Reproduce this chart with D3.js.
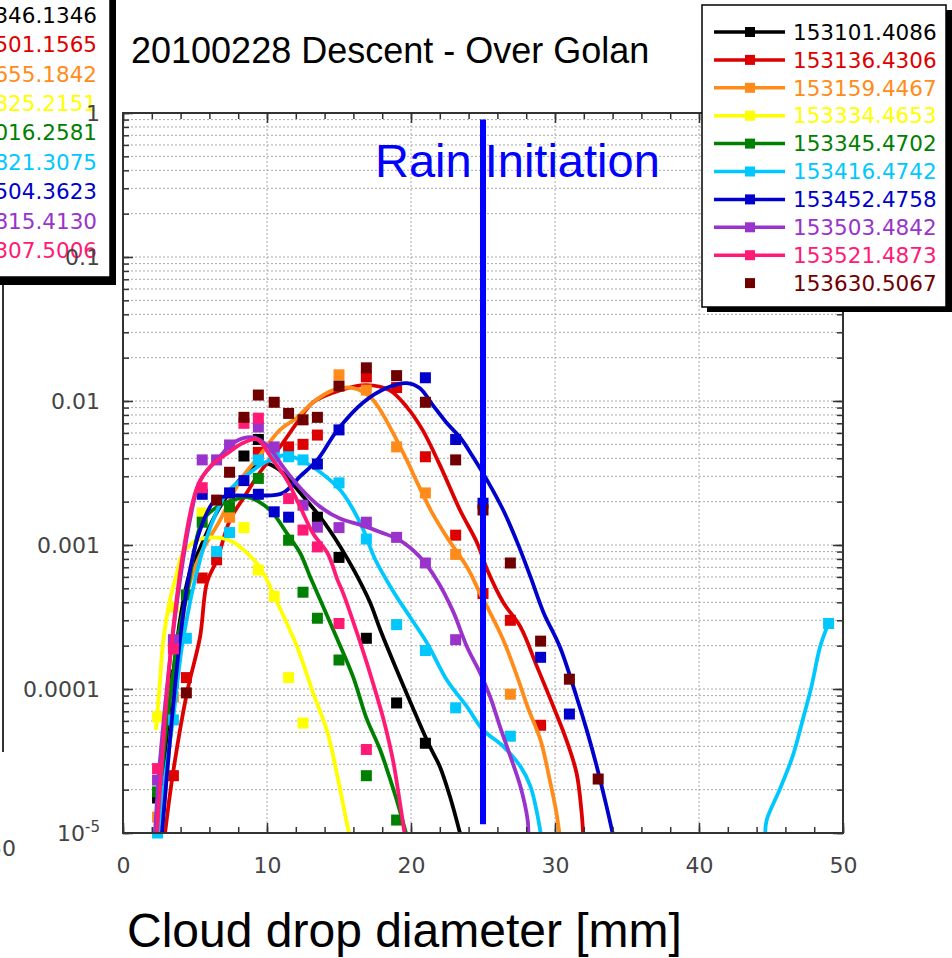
<!DOCTYPE html>
<html>
<head>
<meta charset="utf-8">
<script src="https://d3js.org/d3.v7.min.js"></script>
<style>
body { margin: 0; background: #fff; }
svg { display: block; }
.axis .tick text {
  font-family: "DejaVu Sans", sans-serif;
  font-size: 22px;
  fill: #444;
}
.axis line { stroke: #333; stroke-width: 1.5; }
.axis path.domain { display: none; }
.grid line { stroke: #aaa; stroke-width: 1; stroke-dasharray: 2,2; }
.legend text { font-family: "DejaVu Sans", sans-serif; font-size: 21.5px; }
.label { font-family: "Liberation Sans", Arial, sans-serif; }
</style>
</head>
<body>
<script>

// series names and colours (right legend)
var seriesNames = ["153101.4086", "153136.4306", "153159.4467", "153334.4653", "153345.4702",
                   "153416.4742", "153452.4758", "153503.4842", "153521.4873", "153630.5067"];
var seriesColors = ["#000000", "#dd0000", "#ff8c1a", "#ffff00", "#008000",
                    "#00c8ff", "#0000cc", "#9933cc", "#ff1a75", "#700000"];

// left legend, only the visible part of it
var leftLegendText = ["346.1346", "501.1565", "655.1842", "825.2151", "016.2581",
                      "821.3075", "504.3623", "815.4130", "307.5006"];

// ticks
var xMajor = [0, 10, 20, 30, 40, 50];
var xGrid = [10, 20, 30, 40];
var yMajor = [1e-5, 1e-4, 1e-3, 1e-2, 1e-1, 1];
var yMajorLabels = ["10^-5", "0.0001", "0.001", "0.01", "0.1", "1"];

// rain initiation marker
var rainX = 25;
var rainY = [1.15e-5, 0.9];

// [diameter, concentration] -- smoothed curves and measured points
var blackCurve = [[2.57,1e-5],[2.99,3.2e-5],[3.40,9.8e-5],[3.96,3.0e-4],[4.65,6.5e-4],[5.35,9.5e-4],[6.39,1.6e-3],[7.64,2.5e-3],[8.82,3.3e-3],[9.86,3.7e-3],[10.9,3.3e-3],[11.6,2.8e-3],[12.3,2.3e-3],[13.7,1.56e-3],[15.1,9.7e-4],[16.1,6.5e-4],[17.15,4.0e-4],[17.85,2.6e-4],[19.0,1.36e-4],[20.1,7.5e-5],[21.3,4.0e-5],[22.0,2.9e-5],[22.7,1.8e-5],[23.4,1e-5]];
var blackPts = [[2.4,1.75e-5],[3.5,1.25e-4],[8.4,4.15e-3],[9.4,5.4e-3],[13.5,1.56e-3],[15.0,8.2e-4],[16.9,2.25e-4],[19.0,8.0e-5],[21.0,4.2e-5]];

var redCurve = [[2.92,1e-5],[3.47,2.6e-5],[4.44,9.4e-5],[5.35,2.3e-4],[5.83,5.5e-4],[6.53,7.9e-4],[7.43,1.49e-3],[8.47,2.2e-3],[9.51,3.2e-3],[10.9,4.8e-3],[12.1,7.1e-3],[13.2,9.8e-3],[15.1,1.19e-2],[16.9,1.29e-2],[18.5,1.19e-2],[19.7,9.1e-3],[20.8,6.3e-3],[22.0,3.6e-3],[23.4,1.75e-3],[24.6,1.03e-3],[25.3,6.7e-4],[26.4,4.0e-4],[27.6,2.7e-4],[28.75,1.43e-4],[29.9,7.5e-5],[30.8,4.4e-5],[31.5,2.6e-5],[31.85,1.38e-5],[31.95,1e-5]];
var redPts = [[3.5,2.5e-5],[4.4,1.2e-4],[5.5,5.9e-4],[6.5,7.9e-4],[9.4,4.4e-3],[11.5,4.8e-3],[12.5,5.0e-3],[13.5,5.8e-3],[16.9,1.47e-2],[19.0,1.24e-2],[21.0,4.1e-3],[23.1,1.17e-3],[25.0,4.6e-4],[26.9,3.0e-4],[29.0,5.6e-5]];

var orangeCurve = [[2.71,1e-5],[3.26,4.4e-5],[3.82,1.6e-4],[4.51,4.9e-4],[5.35,8.5e-4],[6.74,1.49e-3],[8.13,2.8e-3],[9.51,4.2e-3],[10.9,6.3e-3],[12.1,7.7e-3],[13.2,9.8e-3],[14.6,1.19e-2],[16.0,1.23e-2],[17.15,1.07e-2],[17.85,8.7e-3],[18.75,6.0e-3],[19.7,3.9e-3],[20.6,2.5e-3],[21.5,1.65e-3],[22.5,1.13e-3],[23.9,7.0e-4],[24.8,4.6e-4],[25.3,3.7e-4],[26.4,2.2e-4],[27.4,1.2e-4],[28.1,7.5e-5],[29.0,4.4e-5],[29.65,2.3e-5],[30.1,1.38e-5],[30.3,1e-5]];
var orangePts = [[2.4,1.29e-5],[3.5,8.8e-5],[7.4,1.56e-3],[15.0,1.52e-2],[16.9,1.19e-2],[19.0,4.8e-3],[21.0,2.3e-3],[23.1,8.6e-4],[26.9,9.2e-5]];

var yellowCurve = [[2.29,5.2e-5],[2.57,1.15e-4],[2.78,2.1e-4],[3.26,4.15e-4],[3.75,6.4e-4],[4.17,8.8e-4],[5.35,1.1e-3],[6.74,1.12e-3],[7.64,1.05e-3],[8.61,8.8e-4],[9.51,7.0e-4],[10.7,4.0e-4],[12.1,1.95e-4],[13.2,9.4e-5],[14.2,5.0e-5],[14.9,2.45e-5],[15.6,1.1e-5],[15.7,1e-5]];
var yellowPts = [[2.4,6.4e-5],[3.5,3.7e-4],[5.5,1.67e-3],[8.4,1.32e-3],[9.4,6.7e-4],[10.5,4.4e-4],[11.5,1.2e-4],[12.5,5.8e-5]];

var greenCurve = [[2.36,1e-5],[2.57,1.9e-5],[2.99,5.2e-5],[3.40,1.1e-4],[3.75,2.1e-4],[4.44,4.6e-4],[5.56,1.49e-3],[6.74,1.89e-3],[7.64,2.05e-3],[8.61,2.15e-3],[9.51,1.98e-3],[10.4,1.67e-3],[11.4,1.2e-3],[12.3,8.8e-4],[13.0,6.0e-4],[13.7,4.15e-4],[14.9,2.2e-4],[16.0,1.2e-4],[16.9,6.3e-5],[17.85,3.8e-5],[18.5,2.45e-5],[19.0,1.7e-5],[19.65,1e-5]];
var greenPts = [[2.4,1.93e-5],[3.5,1.1e-4],[4.4,4.5e-4],[5.5,1.44e-3],[7.4,1.84e-3],[9.4,2.9e-3],[11.5,1.08e-3],[12.5,4.7e-4],[13.5,3.1e-4],[15.0,1.59e-4],[16.9,2.5e-5],[19.0,1.23e-5]];

var cyanCurve = [[2.57,1e-5],[2.78,1.9e-5],[3.47,6.1e-5],[4.17,2.2e-4],[5.35,7.9e-4],[6.39,1.6e-3],[7.22,2.3e-3],[9.03,3.3e-3],[10.2,3.9e-3],[11.25,4.2e-3],[12.3,3.9e-3],[13.7,3.2e-3],[15.1,2.4e-3],[16.0,1.75e-3],[16.7,1.27e-3],[17.5,8.0e-4],[18.75,4.8e-4],[19.9,3.2e-4],[21.1,2.1e-4],[22.5,1.15e-4],[23.9,7.5e-5],[25.0,5.2e-5],[26.4,4.0e-5],[27.6,2.9e-5],[28.3,2.1e-5],[28.75,1.38e-5],[29.0,1e-5]];
var cyanCurve2 = [[44.6,1e-5],[44.7,1.23e-5],[45.6,2.0e-5],[46.5,3.4e-5],[47.2,6.1e-5],[47.8,1.03e-4],[48.4,1.95e-4],[48.9,2.7e-4],[49.0,2.85e-4]];
var cyanPts = [[2.4,1e-5],[3.5,6.1e-5],[4.4,2.25e-4],[6.5,9.0e-4],[7.4,1.22e-3],[9.4,3.9e-3],[10.5,4.1e-3],[11.5,4.1e-3],[12.5,3.9e-3],[15.0,2.7e-3],[16.9,1.1e-3],[19.0,2.8e-4],[21.0,1.85e-4],[23.1,7.4e-5],[26.9,4.7e-5],[49.0,2.85e-4]];

var blueCurve = [[2.71,1e-5],[3.26,4.4e-5],[3.96,2.2e-4],[4.65,6.7e-4],[5.35,1.27e-3],[6.39,2.05e-3],[7.43,2.2e-3],[9.51,2.2e-3],[11.1,2.3e-3],[12.3,3.0e-3],[13.5,3.9e-3],[14.9,6.3e-3],[16.7,9.8e-3],[18.3,1.23e-2],[19.7,1.33e-2],[20.6,1.23e-2],[21.5,9.4e-3],[22.5,7.0e-3],[23.4,5.6e-3],[24.3,4.1e-3],[25.3,2.8e-3],[26.4,1.75e-3],[27.4,1.03e-3],[28.3,6.0e-4],[29.2,3.4e-4],[30.35,1.95e-4],[31.5,8.8e-5],[32.2,5.2e-5],[32.9,2.9e-5],[33.6,1.5e-5],[34.0,1e-5]];
var bluePts = [[5.5,2.25e-3],[7.4,2.3e-3],[8.4,2.8e-3],[9.4,2.25e-3],[10.5,1.7e-3],[11.5,1.56e-3],[13.5,3.65e-3],[15.0,6.3e-3],[21.0,1.45e-2],[23.1,5.4e-3],[25.0,1.95e-3],[29.0,1.66e-4],[31.0,6.7e-5]];

var purpleCurve = [[2.22,1e-5],[2.57,3.2e-5],[3.26,1.6e-4],[3.96,5.7e-4],[4.65,1.49e-3],[5.35,2.8e-3],[6.53,3.9e-3],[7.64,5.1e-3],[8.61,5.6e-3],[9.31,5.5e-3],[10.2,4.7e-3],[11.1,3.5e-3],[12.3,2.5e-3],[13.7,1.84e-3],[15.1,1.52e-3],[16.5,1.38e-3],[17.85,1.23e-3],[19.2,1.08e-3],[20.6,8.3e-4],[21.8,5.7e-4],[22.9,3.5e-4],[23.9,1.95e-4],[24.8,1.29e-4],[25.5,8.8e-5],[26.2,5.4e-5],[26.9,3.4e-5],[27.6,2.1e-5],[28.1,1.23e-5],[28.15,1e-5]];
var purplePts = [[2.4,2.33e-5],[3.5,2.2e-4],[5.5,3.9e-3],[6.5,3.9e-3],[7.4,4.95e-3],[9.4,6.6e-3],[10.5,4.8e-3],[12.5,1.89e-3],[13.5,1.33e-3],[15.0,1.32e-3],[16.9,1.44e-3],[19.0,1.13e-3],[21.0,7.5e-4],[23.1,2.2e-4]];

var pinkCurve = [[2.36,1e-5],[2.71,3.2e-5],[3.26,1.6e-4],[4.17,8.8e-4],[5.14,2.5e-3],[6.04,3.5e-3],[7.22,4.3e-3],[8.33,5.1e-3],[9.31,5.4e-3],[10.4,3.9e-3],[11.4,2.8e-3],[12.3,1.84e-3],[13.2,1.2e-3],[14.2,8.8e-4],[14.9,5.7e-4],[15.3,4.6e-4],[16.25,2.45e-4],[17.15,1.29e-4],[18.1,6.1e-5],[18.75,3.2e-5],[19.2,1.7e-5],[19.55,1e-5]];
var pinkPts = [[2.4,2.8e-5],[3.5,1.9e-4],[5.5,2.5e-3],[8.4,7.0e-3],[9.4,7.6e-3],[11.5,2.1e-3],[12.5,1.27e-3],[13.5,9.7e-4],[15.0,2.85e-4],[16.9,3.8e-5]];

var brownPts = [[4.4,9.4e-5],[6.5,2.05e-3],[7.4,3.2e-3],[8.4,7.7e-3],[9.4,1.1e-2],[10.5,9.8e-3],[11.5,8.2e-3],[12.5,7.4e-3],[13.5,7.7e-3],[15.0,1.27e-2],[16.9,1.7e-2],[19.0,1.5e-2],[21.0,9.8e-3],[23.1,3.9e-3],[25.0,1.75e-3],[26.9,7.5e-4],[29.0,2.15e-4],[31.0,1.17e-4],[33.0,2.37e-5]];

var curveSets = [[blackCurve], [redCurve], [orangeCurve], [yellowCurve], [greenCurve],
                 [cyanCurve, cyanCurve2], [blueCurve], [purpleCurve], [pinkCurve], []];
var pointSets = [blackPts, redPts, orangePts, yellowPts, greenPts,
                 cyanPts, bluePts, purplePts, pinkPts, brownPts];

var series = seriesNames.map(function(n, i) {
  return {name: n, color: seriesColors[i], curves: curveSets[i], points: pointSets[i]};
});

var svg = d3.select("body").append("svg")
    .attr("width", 952)
    .attr("height", 958);

var margin = {top: 113, left: 123},
    width = 720,
    height = 720;

var x = d3.scaleLinear().domain([0, 50]).range([0, width]),
    y = d3.scaleLog().domain([1e-5, 1]).range([height, 0]);

// bits of the neighbouring chart on the left
svg.append("line")
    .attr("x1", 3).attr("x2", 3).attr("y1", 283).attr("y2", 752)
    .attr("stroke", "#333").attr("stroke-width", 2);
svg.append("text")
    .attr("x", 16).attr("y", 856).attr("text-anchor", "end")
    .attr("font-family", "DejaVu Sans").attr("font-size", 22).attr("fill", "#444")
    .text("50");

var leftLeg = svg.append("g").attr("class", "legend");
leftLeg.append("rect").attr("x", -20).attr("y", -20).attr("width", 136).attr("height", 305).attr("fill", "#000");
leftLeg.append("rect").attr("x", -20).attr("y", -20).attr("width", 130).attr("height", 297)
    .attr("fill", "#fff").attr("stroke", "#000").attr("stroke-width", 1.5);
leftLeg.selectAll("text")
    .data(leftLegendText)
    .enter().append("text")
    .attr("x", 97)
    .attr("y", function(d, i) { return 15 + i * 29.4; })
    .attr("dy", "0.36em")
    .attr("text-anchor", "end")
    .attr("fill", function(d, i) { return seriesColors[i]; })
    .text(function(d) { return d; });

var g = svg.append("g")
    .attr("transform", "translate(" + margin.left + "," + margin.top + ")");

// dotted grid
var grid = g.append("g").attr("class", "grid");
grid.selectAll("line.h")
    .data(y.ticks().filter(function(d) { return d > 1e-5 && d < 1; }))
    .enter().append("line").attr("class", "h")
    .attr("x1", 0).attr("x2", width)
    .attr("y1", function(d) { return y(d); })
    .attr("y2", function(d) { return y(d); });
grid.selectAll("line.v")
    .data(xGrid)
    .enter().append("line").attr("class", "v")
    .attr("y1", 0).attr("y2", height)
    .attr("x1", function(d) { return x(d); })
    .attr("x2", function(d) { return x(d); });

// curves and points
var line = d3.line()
    .x(function(d) { return x(d[0]); })
    .y(function(d) { return y(d[1]); })
    .curve(d3.curveCatmullRom.alpha(0.5));

series.forEach(function(s) {
  var sg = g.append("g").attr("class", "series");
  sg.selectAll("path")
      .data(s.curves)
      .enter().append("path")
      .attr("d", line)
      .attr("fill", "none")
      .attr("stroke", s.color)
      .attr("stroke-width", 3.8)
      .attr("stroke-linejoin", "round");
  sg.selectAll("rect")
      .data(s.points)
      .enter().append("rect")
      .attr("x", function(d) { return x(d[0]) - 5.5; })
      .attr("y", function(d) { return y(d[1]) - 5.5; })
      .attr("width", 11)
      .attr("height", 11)
      .attr("fill", s.color);
});

// rain initiation
g.append("line")
    .attr("x1", x(rainX)).attr("x2", x(rainX))
    .attr("y1", y(rainY[0])).attr("y2", y(rainY[1]))
    .attr("stroke", "#0000ff")
    .attr("stroke-width", 6);
svg.append("text").attr("class", "label")
    .attr("x", 375).attr("y", 177)
    .attr("font-size", 47)
    .attr("fill", "#0000ff")
    .text("Rain Initiation");

// frame and ticks
g.append("rect")
    .attr("width", width).attr("height", height)
    .attr("fill", "none").attr("stroke", "#333").attr("stroke-width", 2);

g.append("g").attr("class", "axis")
    .attr("transform", "translate(0," + height + ")")
    .call(d3.axisBottom(x).tickValues(d3.range(0, 51, 2)).tickSize(-6).tickFormat(""));
g.append("g").attr("class", "axis")
    .attr("transform", "translate(0," + height + ")")
    .call(d3.axisBottom(x).tickValues(xMajor).tickSize(-10).tickPadding(24).tickFormat(d3.format("d")));
g.append("g").attr("class", "axis")
    .call(d3.axisTop(x).tickValues(d3.range(0, 51, 2)).tickSize(-6).tickFormat(""));
g.append("g").attr("class", "axis")
    .call(d3.axisTop(x).tickValues(xMajor).tickSize(-10).tickFormat(""));

g.append("g").attr("class", "axis")
    .call(d3.axisLeft(y).tickValues(y.ticks()).tickSize(-6).tickFormat(""));
var yAxis = g.append("g").attr("class", "axis")
    .call(d3.axisLeft(y).tickValues(yMajor).tickSize(-10).tickPadding(23)
      .tickFormat(function(d, i) { return yMajorLabels[i]; }));
g.append("g").attr("class", "axis")
    .attr("transform", "translate(" + width + ",0)")
    .call(d3.axisRight(y).tickValues(y.ticks()).tickSize(-6).tickFormat(""));
g.append("g").attr("class", "axis")
    .attr("transform", "translate(" + width + ",0)")
    .call(d3.axisRight(y).tickValues(yMajor).tickSize(-10).tickFormat(""));

// power-of-ten label with a superscript
yAxis.selectAll(".tick text").each(function() {
  var t = d3.select(this), parts = t.text().split("^");
  if (parts.length > 1) {
    t.text(parts[0]);
    t.append("tspan").attr("dy", "-0.55em").style("font-size", "15px").text(parts[1]);
  }
});

// right legend
var leg = svg.append("g").attr("class", "legend");
leg.append("rect").attr("x", 707).attr("y", 10).attr("width", 245).attr("height", 302).attr("fill", "#000");
leg.append("rect").attr("x", 702).attr("y", 5).attr("width", 244).attr("height", 302)
    .attr("fill", "#fff").attr("stroke", "#000").attr("stroke-width", 1.5);

var item = leg.selectAll("g.item")
    .data(series)
    .enter().append("g").attr("class", "item")
    .attr("transform", function(d, i) { return "translate(0," + (32 + i * 27.9) + ")"; });
item.filter(function(d) { return d.curves.length > 0; })
    .append("line")
    .attr("x1", 714).attr("x2", 785)
    .attr("stroke", function(d) { return d.color; })
    .attr("stroke-width", 3.5);
item.append("rect")
    .attr("x", 745).attr("y", -5).attr("width", 10).attr("height", 10)
    .attr("fill", function(d) { return d.color; });
item.append("text")
    .attr("x", 793).attr("dy", "0.36em")
    .attr("fill", function(d) { return d.color; })
    .text(function(d) { return d.name; });

// titles
svg.append("text").attr("class", "label")
    .attr("x", 131).attr("y", 63)
    .attr("font-size", 36)
    .attr("fill", "#000")
    .text("20100228 Descent - Over Golan");
svg.append("text").attr("class", "label")
    .attr("x", 127).attr("y", 947)
    .attr("font-size", 48)
    .attr("fill", "#000")
    .text("Cloud drop diameter [mm]");

</script>
</body>
</html>
